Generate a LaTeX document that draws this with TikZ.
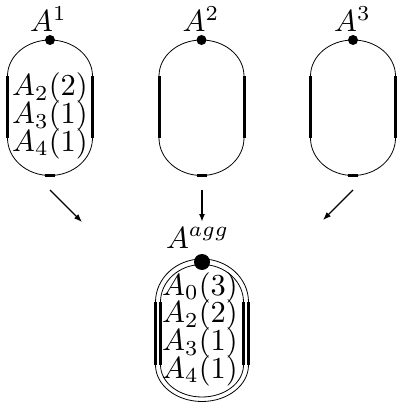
\documentclass[tikz,border=0pt]{standalone}
\usetikzlibrary{arrows.meta}
\newcommand{\tightlines}{\lineskiplimit=-10pt\relax\lineskip=0pt\relax}
\tikzset{
  thin line/.style={line width=0.8pt},
  thick bar/.style={line width=3pt},
  lbl/.style={anchor=base,inner sep=0pt,scale=3.05,transform shape,font=\fontsize{10}{9.08}\selectfont},
  inner text/.style={inner sep=0pt,align=center,scale=3.05,transform shape,font=\fontsize{10}{9.08}\selectfont\tightlines},
  flow/.style={line width=1.2pt,-{Latex[length=8pt,width=6pt]}},
  flowmid/.style={line width=1.8pt,-{Latex[length=8pt,width=6pt]}},
}
\newcommand{\stadium}[7]{% cx, top, ts, te, bottom, hw, style
  \draw[#7] (#1-#6,-#3) -- (#1-#6,-#4)
    arc[start angle=180,end angle=360,x radius=#6,y radius=#5-#4]
    -- (#1+#6,-#3)
    arc[start angle=0,end angle=180,x radius=#6,y radius=#3-#2] -- cycle;
  \draw[thick bar] (#1-#6,-#3) -- (#1-#6,-#4);
  \draw[thick bar] (#1+#6,-#3) -- (#1+#6,-#4);
}
\begin{document}
\begin{tikzpicture}[x=1pt,y=1pt]
\useasboundingbox (0,0) rectangle (396,-403);
% small bubbles
\foreach \cx in {50,201.5,353}{
  \stadium{\cx}{40}{76}{138}{175.5}{42.5}{thin line}
  \draw[thick bar] (\cx-5,-175.5) -- (\cx+5,-175.5);
  \fill (\cx,-40) circle (5);
}
\node[lbl] (l1) at (48.5,-32) {$A^1$};
\node[lbl] (l2) at (201,-32) {$A^2$};
\node[lbl] (l3) at (352.5,-32) {$A^3$};
\node[inner text] (t1) at (50,-116) {$A_2(2)$\\$A_3(1)$\\$A_4(1)$};
% aggregated bubble
\stadium{202}{259}{302}{365}{401.5}{46.5}{thin line}
\stadium{202}{264.5}{302}{365}{397}{41.5}{thin line}
\fill (202,-262) circle (8);
\node[lbl] (lagg) at (197.5,-248) {$A^{agg}$};
\node[inner text] (tagg) at (200,-329) {$A_0(3)$\\$A_2(2)$\\$A_3(1)$\\$A_4(1)$};
% arrows
\coordinate (s1) at (50,-190);
\coordinate (e1) at (82,-222);
\coordinate (s2) at (202,-190);
\coordinate (e2) at (202,-222);
\coordinate (s3) at (353,-190);
\coordinate (e3) at (323,-220);
\draw[flow] (s1) -- (e1);
\draw[flowmid] (s2) -- (e2);
\draw[flow] (s3) -- (e3);
\end{tikzpicture}
\end{document}
